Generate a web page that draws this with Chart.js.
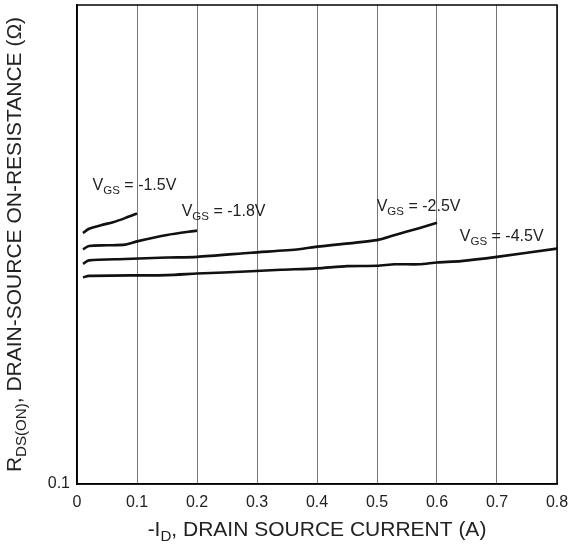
<!DOCTYPE html>
<html>
<head>
<meta charset="utf-8">
<script src="https://cdn.jsdelivr.net/npm/chart.js@4/dist/chart.umd.min.js"></script>
<style>
  html, body { margin: 0; padding: 0; background: #fff; }
  #wrap { width: 571px; height: 545px; position: relative; }
</style>
</head>
<body>
<div id="wrap"><canvas id="rds"></canvas></div>
<script>
// drain current (A) and on-resistance (ohm)
const id15 = [0.01, 0.02, 0.04, 0.06, 0.08, 0.1];
const rds15 = [0.334, 0.341, 0.347, 0.352, 0.359, 0.367];

const id18 = [0.01, 0.02, 0.05, 0.08, 0.1, 0.15, 0.2];
const rds18 = [0.309, 0.314, 0.315, 0.316, 0.321, 0.331, 0.338];

const id25 = [0.01, 0.02, 0.08, 0.15, 0.2, 0.29, 0.37, 0.4, 0.5, 0.53, 0.57, 0.6];
const rds25 = [0.288, 0.293, 0.295, 0.297, 0.298, 0.304, 0.309, 0.313, 0.323, 0.331, 0.342, 0.351];

const id45 = [0.01, 0.02, 0.15, 0.2, 0.29, 0.34, 0.4, 0.45, 0.5, 0.53, 0.57, 0.6, 0.64, 0.7, 0.8];
const rds45 = [0.270, 0.272, 0.273, 0.275, 0.278, 0.280, 0.282, 0.285, 0.2855, 0.2875, 0.2875, 0.290, 0.292, 0.298, 0.310];

const vgsNames = ['-1.5V', '-1.8V', '-2.5V', '-4.5V'];
// where each curve's label sits, in data units (current, resistance)
const labelAt = [[0.026, 0.419], [0.1745, 0.370], [0.4995, 0.379], [0.638, 0.328]];

const xTicks = [0, 0.1, 0.2, 0.3, 0.4, 0.5, 0.6, 0.7, 0.8];

const FONT = '"Liberation Sans", Arial, sans-serif';

const pts = (xs, ys) => xs.map((x, i) => ({x: x, y: ys[i]}));

// text with a subscript piece, drawn left to right
function drawSub(ctx, parts, x, y, size) {
  let cx = x;
  parts.forEach(p => {
    const s = p.sub ? size * 0.72 : size;
    ctx.font = s + 'px ' + FONT;
    ctx.fillText(p.t, cx, y + (p.sub ? size * 0.32 : 0));
    cx += ctx.measureText(p.t).width;
  });
  return cx - x;
}
function subWidth(ctx, parts, size) {
  let w = 0;
  parts.forEach(p => {
    ctx.font = (p.sub ? size * 0.72 : size) + 'px ' + FONT;
    w += ctx.measureText(p.t).width;
  });
  return w;
}

const decorations = {
  id: 'decorations',
  afterDraw(chart) {
    const {ctx, chartArea: a, scales} = chart;
    ctx.save();
    // frame
    ctx.strokeStyle = '#000';
    ctx.lineWidth = 1.5;
    ctx.strokeRect(a.left, a.top, a.right - a.left, a.bottom - a.top);

    ctx.fillStyle = '#222';
    ctx.textBaseline = 'middle';
    ctx.textAlign = 'left';

    // curve labels
    vgsNames.forEach((n, i) => {
      const px = scales.x.getPixelForValue(labelAt[i][0]);
      const py = scales.y.getPixelForValue(labelAt[i][1]);
      drawSub(ctx, [{t: 'V'}, {t: 'GS', sub: true}, {t: ' = ' + n}], px, py, 16);
    });

    // x title
    const xt = [{t: '-I'}, {t: 'D', sub: true}, {t: ', DRAIN SOURCE CURRENT (A)'}];
    const xw = subWidth(ctx, xt, 21);
    drawSub(ctx, xt, (a.left + a.right) / 2 - xw / 2, 530, 21);

    // y title
    const yt = [{t: 'R'}, {t: 'DS(ON)', sub: true}, {t: ', DRAIN-SOURCE ON-RESISTANCE (\u03A9)'}];
    const yw = subWidth(ctx, yt, 21);
    ctx.translate(15, (a.top + a.bottom) / 2);
    ctx.rotate(-Math.PI / 2);
    drawSub(ctx, yt, -yw / 2, 0, 21);
    ctx.restore();
  }
};

const line = (xs, ys) => ({
  data: pts(xs, ys),
  borderColor: '#111',
  borderWidth: 2.6,
  pointRadius: 0,
  tension: 0.25,
  fill: false
});

new Chart(document.getElementById('rds'), {
  type: 'line',
  data: {
    datasets: [line(id15, rds15), line(id18, rds18), line(id25, rds25), line(id45, rds45)]
  },
  options: {
    responsive: true,
    maintainAspectRatio: false,
    animation: false,
    layout: { padding: { top: 5, right: 14, left: 0, bottom: 0 } },
    plugins: { legend: { display: false }, tooltip: { enabled: false } },
    scales: {
      x: {
        type: 'linear',
        min: 0,
        max: 0.8,
        afterBuildTicks: s => { s.ticks = xTicks.map(v => ({value: v})); },
        afterFit: s => { s.height = 61; s.paddingLeft = 0; s.paddingRight = 0; },
        grid: { color: '#777', lineWidth: 1, drawTicks: false },
        border: { color: '#000', width: 1.5 },
        ticks: {
          padding: 9,
          color: '#222',
          font: { family: FONT, size: 16 },
          maxRotation: 0,
          autoSkip: false,
          callback: v => v === 0 ? '0' : v.toFixed(1)
        }
      },
      y: {
        type: 'logarithmic',
        min: 0.1,
        max: 1,
        afterFit: s => { s.width = 77; s.paddingTop = 0; s.paddingBottom = 0; },
        grid: { display: false, drawTicks: false },
        border: { color: '#000', width: 1.5 },
        ticks: {
          padding: 7,
          color: '#222',
          autoSkip: false,
          font: { family: FONT, size: 16 },
          callback: v => Math.abs(v - 0.1) < 1e-9 ? '0.1' : null
        }
      }
    }
  },
  plugins: [decorations]
});
</script>
</body>
</html>
